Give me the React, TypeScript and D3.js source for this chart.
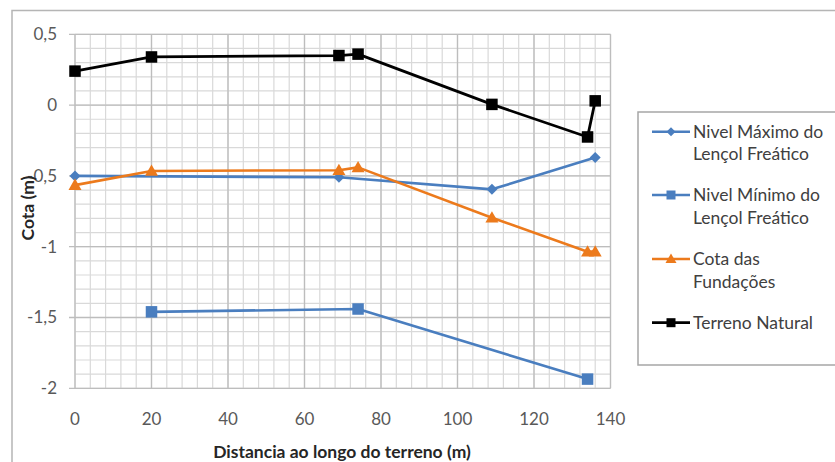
import React from "react";
import * as d3 from "d3";

const W = 835;
const H = 462;

const xTicks = [0, 20, 40, 60, 80, 100, 120, 140];
const yTicks = [0.5, 0, -0.5, -1, -1.5, -2];

const nivelMaxX = [0, 69, 109, 136];
const nivelMaxY = [-0.5, -0.51, -0.595, -0.37];

const nivelMinX = [20, 74, 134];
const nivelMinY = [-1.46, -1.44, -1.935];

const cotaX = [0, 20, 69, 74, 109, 134, 136];
const cotaY = [-0.565, -0.465, -0.46, -0.44, -0.795, -1.035, -1.035];

const terrenoX = [0, 20, 69, 74, 109, 134, 136];
const terrenoY = [0.24, 0.34, 0.35, 0.36, 0.005, -0.225, 0.03];

const seriesNames = [
  ["Nivel Máximo do", "Lençol Freático"],
  ["Nivel Mínimo do", "Lençol Freático"],
  ["Cota das", "Fundações"],
  ["Terreno Natural"],
];

const BLUE = "#4a7ebf";
const ORANGE = "#ec7a1c";
const BLACK = "#000000";

type Pt = [number, number];
const zip = (xs: number[], ys: number[]): Pt[] => xs.map((x, i) => [x, ys[i]]);

function Marker({ kind, x, y, color }: { kind: string; x: number; y: number; color: string }) {
  if (kind === "square") {
    const s = 11.5;
    return <rect x={x - s / 2} y={y - s / 2} width={s} height={s} fill={color} />;
  }
  if (kind === "diamond") {
    const r = 5.5;
    return <path d={`M${x},${y - r}L${x + r},${y}L${x},${y + r}L${x - r},${y}Z`} fill={color} />;
  }
  const r = 6.5;
  return <path d={`M${x},${y - r}L${x + r},${y + r * 0.75}L${x - r},${y + r * 0.75}Z`} fill={color} />;
}

export default function App() {
  const x = d3.scaleLinear().domain([0, 140]).range([75, 610.5]);
  const y = d3.scaleLinear().domain([0.5, -2]).range([34.3, 388.3]);
  const line = d3
    .line<Pt>()
    .x((d) => x(d[0]))
    .y((d) => y(d[1]));

  const minorX = d3.range(0, 140.01, 4);
  const minorY = d3.range(-2, 0.501, 0.1);
  const fmt = (v: number) => (v === 0 ? "0" : String(v).replace(".", ","));

  const series = [
    { pts: zip(nivelMaxX, nivelMaxY), color: BLUE, kind: "diamond", w: 2.6 },
    { pts: zip(nivelMinX, nivelMinY), color: BLUE, kind: "square", w: 2.6 },
    { pts: zip(cotaX, cotaY), color: ORANGE, kind: "triangle", w: 2.6 },
    { pts: zip(terrenoX, terrenoY), color: BLACK, kind: "square", w: 2.8 },
  ];

  const legendRows = [131.7, 195, 259, 322.7];
  const font = "Lato, 'Open Sans', sans-serif";

  return (
    <svg
      width={W}
      height={H}
      style={{ position: "absolute", left: 0, top: 0, background: "#fff" }}
      fontFamily={font}
    >
      <rect x={12} y={10.5} width={900} height={600} fill="#fff" stroke="#b5b5b5" strokeWidth={1.5} />
      {minorX.map((v) => (
        <line key={"mx" + v} x1={x(v)} x2={x(v)} y1={y(0.5)} y2={y(-2)} stroke="#d9d9d9" strokeWidth={1.2} />
      ))}
      {minorY.map((v) => (
        <line key={"my" + v} x1={x(0)} x2={x(140)} y1={y(v)} y2={y(v)} stroke="#d9d9d9" strokeWidth={1.2} />
      ))}
      {xTicks.map((v) => (
        <line key={"Mx" + v} x1={x(v)} x2={x(v)} y1={y(0.5)} y2={y(-2)} stroke="#bdbdbd" strokeWidth={1.3} />
      ))}
      {yTicks.map((v) => (
        <line key={"My" + v} x1={x(0) - 6} x2={x(140)} y1={y(v)} y2={y(v)} stroke="#bdbdbd" strokeWidth={1.3} />
      ))}
      {yTicks.map((v) => (
        <text key={"ty" + v} x={57} y={y(v)} dy="0.35em" textAnchor="end" fontSize={17} fill="#595959">
          {fmt(v)}
        </text>
      ))}
      {xTicks.map((v) => (
        <text key={"tx" + v} x={x(v)} y={419} dy="0.35em" textAnchor="middle" fontSize={17} fill="#595959">
          {fmt(v)}
        </text>
      ))}
      <text
        transform={`translate(28,208) rotate(-90)`}
        textAnchor="middle"
        dy="0.35em"
        fontSize={17.5}
        fontWeight="bold"
        fill="#262626"
      >
        Cota (m)
      </text>
      <text x={342} y={452} dy="0.35em" textAnchor="middle" fontSize={17.5} fontWeight="bold" fill="#262626">
        Distancia ao longo do terreno (m)
      </text>
      {series.map((s, i) => (
        <g key={"s" + i}>
          <path d={line(s.pts) || ""} fill="none" stroke={s.color} strokeWidth={s.w} strokeLinejoin="round" />
          {s.pts.map((p, j) => (
            <Marker key={j} kind={s.kind} x={x(p[0])} y={y(p[1])} color={s.color} />
          ))}
        </g>
      ))}
      <rect x={638} y={112} width={300} height={253} fill="#fff" stroke="#a6a6a6" strokeWidth={1.5} />
      {series.map((s, i) => (
        <g key={"l" + i}>
          <line x1={652} x2={690} y1={legendRows[i]} y2={legendRows[i]} stroke={s.color} strokeWidth={s.w} />
          {s.kind === "square" ? (
            <rect x={671 - 4.5} y={legendRows[i] - 4.5} width={9} height={9} fill={s.color} />
          ) : s.kind === "diamond" ? (
            <path
              d={`M671,${legendRows[i] - 4.5}L675.5,${legendRows[i]}L671,${legendRows[i] + 4.5}L666.5,${legendRows[i]}Z`}
              fill={s.color}
            />
          ) : (
            <path
              d={`M671,${legendRows[i] - 5.5}L676.5,${legendRows[i] + 4}L665.5,${legendRows[i] + 4}Z`}
              fill={s.color}
            />
          )}
          {seriesNames[i].map((t, k) => (
            <text key={k} x={693} y={legendRows[i] + k * 22.5} dy="0.35em" fontSize={17.5} fill="#404040">
              {t}
            </text>
          ))}
        </g>
      ))}
    </svg>
  );
}
